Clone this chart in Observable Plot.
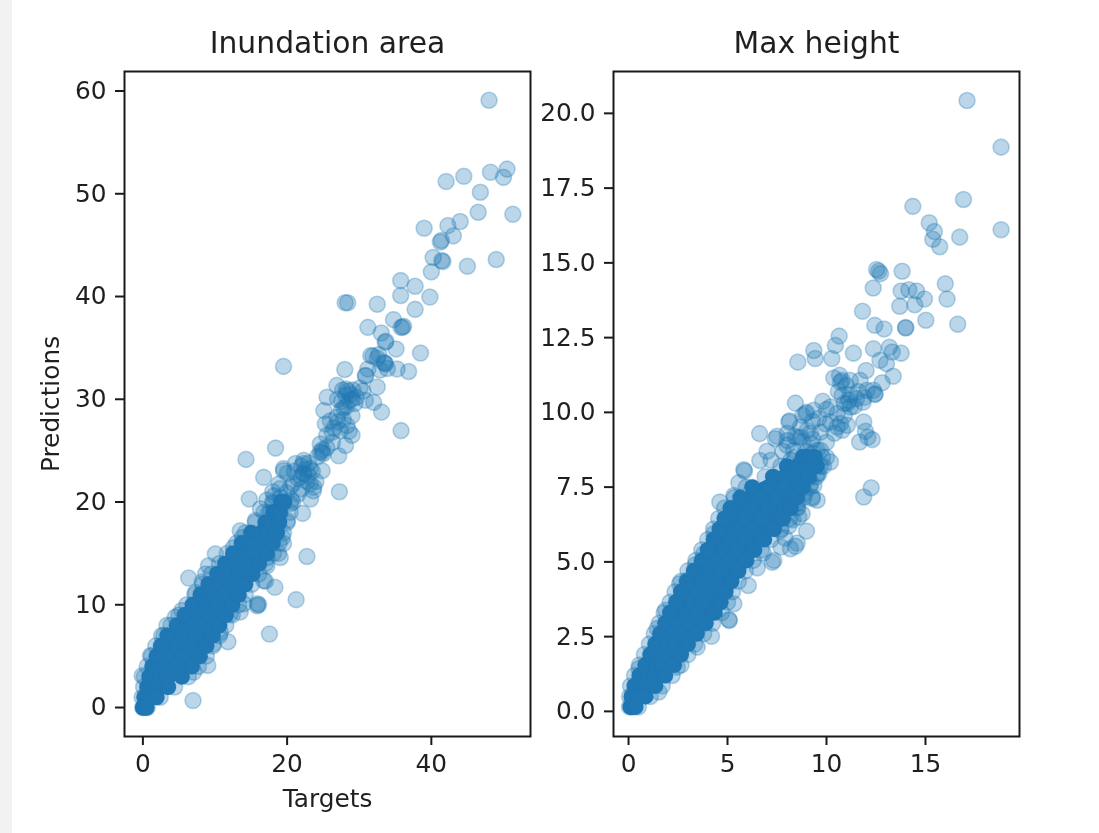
<!DOCTYPE html>
<html><head><meta charset="utf-8">
<script src="https://cdn.jsdelivr.net/npm/d3@7"></script>
<script src="https://cdn.jsdelivr.net/npm/@observablehq/plot@0.6"></script>
<style>
html,body{margin:0;padding:0;background:#fff;width:1099px;height:833px;overflow:hidden}
#strip{position:absolute;left:0;top:0;width:12px;height:833px;background:#f2f2f2}
#a,#b{position:absolute;top:0;filter:blur(0.55px)}
#a{left:0}#b{left:535px}
</style></head><body>
<div id="strip"></div><div id="a"></div><div id="b"></div>
<script>
const BLUE="#1f77b4";
const areaXTicks=[0,20,40], areaYTicks=[0,10,20,30,40,50,60];
const heightXTicks=[0,5,10,15], heightYTicks=[0,2.5,5,7.5,10,12.5,15,17.5,20];

// Inundation area: individually readable samples [target, prediction]
const areaPoints=[[48,59.1],[50.5,52.4],[48.2,52.1],[44.5,51.7],[50,51.6],[42.05,51.2],[46.8,50.15],[46.5,48.2],[51.3,48],[44,47.3],[39,46.65],[42.3,46.9],[43.05,45.9],[41.4,45.45],[41.25,45.3],[40.25,43.8],[41.6,43.4],[41.45,43.5],[49,43.6],[45,42.95],[40,42.4],[35.75,41.55],[37.75,41],[35.75,40.1],[39.8,39.95],[28.05,39.4],[28.4,39.4],[32.5,39.25],[37.75,38.75],[34.75,37.75],[36,37],[36.15,37.1],[35.8,37],[31.2,37],[33.05,36.45],[33.7,35.65],[33.6,35.55],[35.1,34.9],[38.5,34.5],[31.9,34.2],[32.7,34.35],[33.6,33.45],[33.4,33.6],[19.5,33.2],[28,32.9],[31.2,32.95],[36.85,32.7],[35.25,32.95],
[32.5,31.2],[30.85,32.3],[33.1,28.75],[32,29.7],[30.85,29.9],[35.8,26.95],[26.9,31.35],[25.55,30.2],[28.8,30.5],[28.1,30.4],[29.1,30.9],[28.6,29.9],[29.6,30.2],[27.7,30.9],[30.1,31.1],[25.1,28.9],[27.85,29.2],[29,28.4],[26.9,28.25],[25.3,27.6],[26.25,26.8],[27.4,26.95],[29,26.5],[28.3,27.45],[24.6,25.65],[28.1,25.5],[27.15,24.5],[24.85,24.85],[25.5,25.3],[24.2,24.4],[22.3,24.05],[22.3,22.75],[19.5,23.05],[18.4,25.25],[24.85,23.05],[27.25,21],[18.85,21.75],[23.7,21.45],
[14.3,24.15],[16.75,22.4],[14.75,20.3],[22.75,14.7],[21.25,10.5],[18.3,11.7],[17,12.3],[19.05,14.6],[22.15,18.9],[23.25,20.3],[13.5,17.2],[10.05,14.95],[9.1,13.8],[6.35,12.6],[15.9,10.1],[17.2,13.8],
[22.25,22.8],[22.6,23.2],[21.9,22.4],[22.9,22.6],[20.85,21.8],[23.2,21.8],[21.55,20.8],[20.05,22.8],[23.65,21.1],[21.15,23.75],[22.25,23.75],[23.2,23.25],[19.5,23.25],[20.45,19.85],[19.05,20.45],[18.1,19.85],[17.7,19],[19.05,19],[20.05,18.2],[16.3,19.35],[19.35,16.55],[19.5,15.95],[17.95,16.25],[15.6,18.2],[18.8,15],[17.25,14.6],[12.55,15.55],[13.8,16.55],
[6.95,0.68],[9,4.1],[11.8,6.4],[5.4,9.45],[3.35,8],[4.5,8.8],[2.9,7],[1.05,5.05],[-0.1,3.1],[7.3,11.2],[8.2,12.2],[15.85,9.9],[13.5,9.3],[9.8,6.2],[7.05,3.45],[10.75,7.3],[14,10.1],[12.1,9.1],[8.7,13],[16.05,10],[17.55,7.15],[16.75,12.35],
[22,23.5],[22.8,22],[21.5,22.3],[23,23.8],[21,23],[20.5,21.5],[22,21.3],[24,22],[23.5,23],[24.6,24.9],[25,24.7],[24.9,25.1],
[26.5,27.2],[27,27.8],[27.8,28],[26,27.9],[28.6,26.9],[27.5,28.9],[26.3,25.8],[25.5,26.5],[28.2,29.3],[29.4,29.6],[27,30],[27.6,29.8],[28.4,30.8],[29,30],[28.2,31],[30.5,30.8],
[31.6,34.25],[32.5,34],[33.6,33.5],[33.9,33],[32.9,32.85],[30.9,32.3],
[18.2,20.6],[19,21.3],[18,21],[19.9,20.9],[20.6,20.2],[17.2,20.2],[17.4,18.9]];

// Inundation area: the overplotted mass, one row of targets per prediction level
const areaMassPred=[0,1,2,3,4,5,6,7,8,9,10,11,12,13,14,15,16,17,18,19,20];
const areaMassA=[0,.2,.6,.9,1.3,1.9,2.5,3.4,4.7,5.8,6.9,8,9.1,10.3,11.4,12.5,13.7,15,17,18.1,19.2];
const areaMassB=[.1,.8,1.7,2.5,3.2,4,4.7,5.6,6.8,7.8,8.9,9.9,10.9,12.1,13.1,14.2,15.3,16.4,17.5,18.4,19.3];
const areaMassC=[.3,1.2,2.3,3.5,4.6,5.6,6.5,7.4,8.4,9.4,10.3,11.3,12.3,13.3,14.3,15.4,16.3,17.2,18,18.7,19.5];
const areaMassD=[.5,1.9,3.5,5.4,6.8,7.9,8.8,9.7,10.6,11.5,12.4,13.3,14.2,15.2,16.1,17.2,18,18.6,18.9,19,19.6];
const areaFringeLo=[0,-0.1,.1,.2,.6,1.2,1.8,2.6,3.9,5,6.1,7.2,8.3,9.5,10.6,11.7,13,14.2,15.6,16.8,18];
const areaFringeHi=[.6,2.4,4.4,6.3,7.7,8.8,9.7,10.6,11.5,12.4,13.3,14.2,15.1,16.1,17,18.1,18.9,19.5,20,20.4,20.8];

// Max height: individually readable samples
const heightPoints=[[17.1,20.43],[18.82,18.87],[16.92,17.12],[14.36,16.89],[18.82,16.11],[15.19,16.34],[15.45,16.05],[15.37,15.79],[15.72,15.54],[16.73,15.86],[12.53,14.78],[12.73,14.64],[12.64,14.72],[13.82,14.72],[12.36,14.16],[16,14.3],[16.09,13.79],[13.77,14.06],[14.16,14.1],[14.55,14.06],[14.95,13.79],[13.7,13.55],[14.46,13.6],[11.82,13.38],[15.02,13.08],[16.63,12.95],[12.44,12.91],[12.91,12.79],[14,12.82],[14,12.84],[10.64,12.55],[10.45,12.24],[9.36,12.07],[9.43,11.8],[10.27,11.8],[8.55,11.68],[11.36,11.98],[12.37,12.13],[13.18,12.18],[13.32,12.02],[13.77,11.98],[12.7,11.74],[13.03,11.63],[12,11.4],[13.37,11.21],[12.81,10.99],[10.37,11.15],[10.66,11.24],[10.79,11.07],[11.2,11.07],[11.7,11.07],[12.37,10.74],
[10.71,11.01],[12.44,10.6],[12.46,10.62],[11.85,10.34],[11.21,10.18],[10.79,10.57],[11.13,10.4],[11.52,10.46],[12.05,10.74],[8.43,10.31],[9.81,10.37],[8.94,9.96],[9.36,10.07],[10.2,10.18],[10.54,9.96],[8.1,9.68],[8.14,9.72],[9.95,9.62],[10.54,9.51],[11.05,9.57],[9.03,9.4],[9.7,9.34],[10.2,9.68],[11.88,9.68],[11.97,9.37],[12.31,9.09],[11.67,9.01],[12.09,9.17],[12.26,7.48],[11.88,7.17],[10.2,8.34],[9.53,7.06],[9.28,7.12],[9.36,7.56],[9.55,7.96],[9.34,8.63],
[6.62,9.29],[7.42,9.12],[5.82,8.08],[5.86,8.04],[6.63,8.39],[5.57,7.65],[5.32,7.22],[4.61,7],[9.28,7.17],[8.99,6.03],[8.52,5.63],[8.18,5.44],[8.43,5.52],[7.34,5.05],[7.26,4.99],[4.31,5.94],[8.52,6.95],[8.77,6.61],[9.61,7.95],[7.68,6.05],
[2.58,4.27],[3.38,4.9],[5.07,3.07],[5.09,3.04],[4.19,2.51],[6.05,4.21],[5.32,3.6],[8.52,6.83],[0.52,1.43],[2.46,1.48],[1.53,0.65],[3.47,2.15],[1.87,3.38],[1.45,2.77],[3.8,5.27],[2.96,4.38],
[8.02,9.06],[8.69,9.17],[9.19,9.3],[8.34,8.73],[9.53,8.73],[8.84,8.5],[8.02,9.3],[8.52,9.17],[9.19,8.96],[9.7,8.73],[8.69,9.51],[10.71,9.63],[11.05,10.3],
[8,8.9],[8.4,9.2],[8.8,9],[7.5,9.2],[9,8.7],[8.2,8.4],[7.8,8.7],[9.3,9.1],[10,9],[9.8,8.5],[7,8.7],[7.2,8.4],[9.1,7.8],[9.7,8.2],[8.9,7.3],[8.3,6.4],[8.6,6.5],[8.1,6.2],[9.2,7.6],[7.9,5.8],[7.7,5.5],[6.5,4.8],[6.8,5.3],[10.4,9.3],[10.9,9.9],[11.4,10.2],[11.2,10.6],[10.9,10.3],[11.6,10.7],[11.9,10.5],[11,10.9],[10.6,10.7],[9.3,9.7],[8.8,9.9],[10,10.1],[10.8,9.4],[9,10],[9.6,9.8]];

// Max height: the overplotted mass
const heightMassPred=[.15,.5,.85,1.2,1.55,1.9,2.25,2.6,2.95,3.3,3.65,4,4.35,4.7,5.05,5.4,5.75,6.1,6.45,6.8,7.15,7.5,7.85,8.2,8.5];
const heightMassA=[.1,.15,.3,.55,.85,1.1,1.35,1.6,1.85,2.1,2.4,2.65,2.95,3.3,3.7,4,4.3,4.6,4.85,5.15,5.65,6.25,7.3,8,8.8];
const heightMassB=[.17,.38,.68,1.05,1.38,1.67,1.95,2.27,2.58,2.9,3.2,3.45,3.75,4.1,4.5,4.83,5.2,5.57,5.88,6.22,6.65,7.15,7.9,8.5,9];
const heightMassC=[.23,.52,.92,1.35,1.72,2.03,2.35,2.73,3.12,3.5,3.8,4.05,4.35,4.7,5.1,5.47,5.9,6.33,6.72,7.08,7.45,7.85,8.5,9,9.2];
const heightMassD=[.35,.85,1.35,1.85,2.3,2.65,3,3.45,3.9,4.35,4.65,4.9,5.2,5.55,5.95,6.35,6.85,7.35,7.8,8.2,8.5,8.8,9.1,9.5,9.4];
const heightFringeLo=[.05,.05,.1,.3,.55,.8,1.05,1.3,1.55,1.8,2.1,2.35,2.65,3,3.4,3.7,4,4.3,4.55,4.85,5.35,5.95,6.9,7.7,8.4];
const heightFringeHi=[.5,1.1,1.7,2.2,2.65,3,3.35,3.8,4.25,4.7,5,5.25,5.55,5.9,6.3,6.7,7.2,7.7,8.15,8.55,8.85,9.15,9.5,9.85,10];

const mass=(pred,...rows)=>rows.flatMap(r=>r.map((x,i)=>[x,pred[i]]));
const band=(pred,lo,hi)=>pred.map((y,i)=>({y,lo:lo[i],hi:hi[i]}));
const FONT="'DejaVu Sans',sans-serif", INK="#1f1f1f", LINE="#1a1a1a", TICK=24.8;

function panel(o){
  const dotStyle={x:d=>d[0],y:d=>d[1],r:8,fill:BLUE,stroke:BLUE,strokeOpacity:.3,strokeWidth:1.6};
  const axis={tickSize:9,tickPadding:9,strokeWidth:2,stroke:LINE,fill:INK,fontSize:TICK};
  const marks=[
    Plot.dot(o.points,{...dotStyle,fillOpacity:.3}),
    Plot.areaX(o.band,{x1:"lo",x2:"hi",y:"y",fill:BLUE}),
    Plot.dot(o.mass,{...dotStyle,fillOpacity:1,strokeOpacity:.15}),
    Plot.frame({stroke:LINE,strokeWidth:2}),
    Plot.axisX({...axis,ticks:o.xTicks,tickFormat:d3.format("d"),
      label:o.xLabel,labelAnchor:"center",labelArrow:"none",labelOffset:70}),
    Plot.axisY({...axis,ticks:o.yTicks,tickFormat:o.yFormat,
      label:o.yLabel,labelAnchor:"center",labelArrow:"none",labelOffset:83}),
    Plot.text([o.title],{frameAnchor:"top",dy:-28,lineAnchor:"middle",fontSize:29.8,fill:INK,text:d=>d})
  ];
  return Plot.plot({width:o.width,height:833,marginLeft:o.ml,marginRight:o.mr,marginTop:71,marginBottom:97,
    style:{fontFamily:FONT,fontSize:TICK+"px",background:"transparent",overflow:"visible"},
    x:{domain:o.xd},y:{domain:o.yd},marks});
}
document.getElementById("a").append(panel({width:535,ml:124,mr:5,xd:[-2.55,53.75],yd:[-2.82,61.9],
  xTicks:areaXTicks,yTicks:areaYTicks,yFormat:d3.format("d"),xLabel:"Targets",yLabel:"Predictions",title:"Inundation area",
  points:areaPoints.concat(mass(areaMassPred,areaFringeLo,areaFringeHi)),
  mass:mass(areaMassPred,areaMassA,areaMassB,areaMassC,areaMassD),band:band(areaMassPred,areaMassA,areaMassD)}));
document.getElementById("b").append(panel({width:564,ml:78,mr:80,xd:[-0.76,19.75],yd:[-0.84,21.4],
  xTicks:heightXTicks,yTicks:heightYTicks,yFormat:d3.format(".1f"),xLabel:null,yLabel:null,title:"Max height",
  points:heightPoints.concat(mass(heightMassPred,heightFringeLo,heightFringeHi)),
  mass:mass(heightMassPred,heightMassA,heightMassB,heightMassC,heightMassD),band:band(heightMassPred,heightMassA,heightMassD)}));
</script>
</body></html>
